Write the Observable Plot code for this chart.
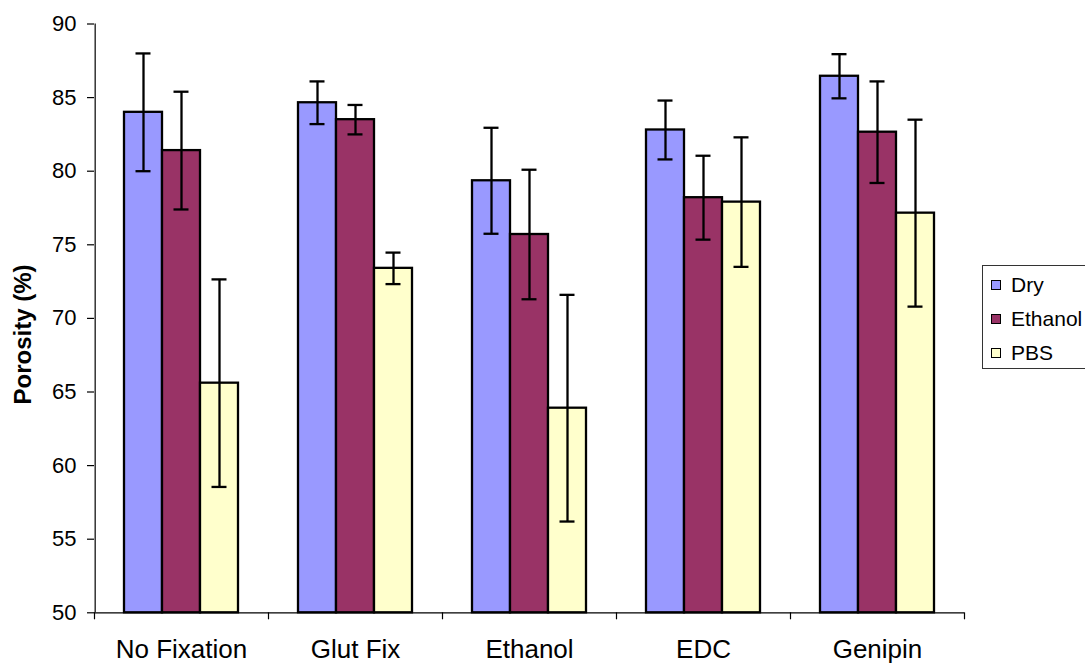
<!DOCTYPE html>
<html>
<head>
<meta charset="utf-8">
<script src="https://cdn.jsdelivr.net/npm/d3@7"></script>
<script src="https://cdn.jsdelivr.net/npm/@observablehq/plot@0.6"></script>
<style>
  html, body { margin: 0; padding: 0; background: #fff; overflow: hidden; }
  #wrap { position: relative; width: 1085px; height: 663px; font-family: "Liberation Sans", Arial, sans-serif; }
  #legend { position: absolute; left: 982px; top: 265px; width: 120px; height: 104px; border: 1px solid #333; background: #fff; box-sizing: border-box; }
  #legend .item { position: absolute; left: 8px; height: 22px; display: flex; align-items: center; font-size: 21px; color: #000; white-space: nowrap; }
  #legend .sw { width: 8px; height: 8px; border: 1.6px solid #000; margin-right: 10px; }
</style>
</head>
<body>
<div id="wrap"></div>
<script>
// ---- data ----
const categories = ["No Fixation", "Glut Fix", "Ethanol", "EDC", "Genipin"];
const series = ["Dry", "Ethanol", "PBS"];
const dryMean = [84.0, 84.65, 79.35, 82.8, 86.45];
const drySd = [4.0, 1.45, 3.6, 2.0, 1.5];
const ethanolMean = [81.4, 83.5, 75.7, 78.2, 82.65];
const ethanolSd = [4.0, 1.0, 4.4, 2.85, 3.45];
const pbsMean = [65.6, 73.4, 63.9, 77.9, 77.15];
const pbsSd = [7.05, 1.07, 7.7, 4.4, 6.35];
const colors = ["#9999FF", "#993366", "#FFFFCC"];
const yTicks = [50, 55, 60, 65, 70, 75, 80, 85, 90];
const yLabel = "Porosity (%)";

// ---- table ----
const means = [dryMean, ethanolMean, pbsMean];
const sds = [drySd, ethanolSd, pbsSd];
const rows = [];
categories.forEach((c, i) => {
  series.forEach((s, j) => {
    rows.push({category: c, series: s, value: means[j][i], sd: sds[j][i]});
  });
});

// ---- layout ----
const W = 1085, H = 663;
const mL = 94, mR = 121, mT = 23.5, mB = 50.7;
const outerPad = 0.75;
const facetStep = (W - mL - mR) / categories.length;
const bandStep = facetStep / (series.length + 2 * outerPad);
const toFacetLeft = -(outerPad * bandStep + bandStep / 2);

const chart = Plot.plot({
  width: W,
  height: H,
  marginLeft: mL,
  marginRight: mR,
  marginTop: mT,
  marginBottom: mB,
  style: {fontSize: "22px", fontFamily: "'Liberation Sans', Arial, sans-serif", color: "#000", background: "#fff"},
  fx: {domain: categories, paddingInner: 0, paddingOuter: 0, axis: null, label: null},
  x: {domain: series, paddingInner: 0, paddingOuter: outerPad, axis: null},
  y: {domain: [50, 90], axis: null, label: null},
  color: {domain: series, range: colors},
  marks: [
    Plot.barY(rows, {fx: "category", x: "series", y1: 50, y2: "value", fill: "series", stroke: "#000", strokeWidth: 2.3}),
    Plot.ruleX(rows, {fx: "category", x: "series", y1: d => d.value - d.sd, y2: d => d.value + d.sd, stroke: "#000", strokeWidth: 2.3}),
    Plot.tickY(rows, {fx: "category", x: "series", y: d => d.value + d.sd, stroke: "#000", strokeWidth: 2.3, insetLeft: 11.5, insetRight: 11.5}),
    Plot.tickY(rows, {fx: "category", x: "series", y: d => d.value - d.sd, stroke: "#000", strokeWidth: 2.3, insetLeft: 11.5, insetRight: 11.5}),
    Plot.ruleY([50], {stroke: "#000", strokeWidth: 1.2}),
    Plot.ruleX([categories[0]], {fx: d => d, x: () => series[0], dx: toFacetLeft, y1: 50, y2: 90, stroke: "#000", strokeWidth: 1.2}),
    Plot.axisY({ticks: yTicks, tickSize: 7, tickPadding: 11, fontSize: 22, label: null, facetAnchor: "left", strokeWidth: 1.2}),
    Plot.axisFx({anchor: "bottom", tickSize: 7, dx: -facetStep / 2, tickFormat: () => "", label: null, strokeWidth: 1.2}),
    Plot.axisFx({anchor: "bottom", ticks: [categories[categories.length - 1]], tickSize: 7, dx: facetStep / 2, tickFormat: () => "", label: null, strokeWidth: 1.2}),
    Plot.axisFx({anchor: "bottom", tickSize: 0, tickPadding: 27, fontSize: 26, label: null}),
    Plot.text([yLabel], {fx: () => categories[0], frameAnchor: "left", textAnchor: "middle", rotate: -90, dx: -71, dy: 16, fontSize: 24, fontWeight: "bold", fill: "#000"})
  ]
});

const wrap = document.getElementById("wrap");
wrap.appendChild(chart);

// ---- legend ----
const legend = document.createElement("div");
legend.id = "legend";
const rowTops = [8, 42, 76];
series.forEach((s, i) => {
  const item = document.createElement("div");
  item.className = "item";
  item.style.top = rowTops[i] + "px";
  const sw = document.createElement("span");
  sw.className = "sw";
  sw.style.background = colors[i];
  const t = document.createElement("span");
  t.textContent = s;
  item.appendChild(sw);
  item.appendChild(t);
  legend.appendChild(item);
});
wrap.appendChild(legend);
</script>
</body>
</html>
